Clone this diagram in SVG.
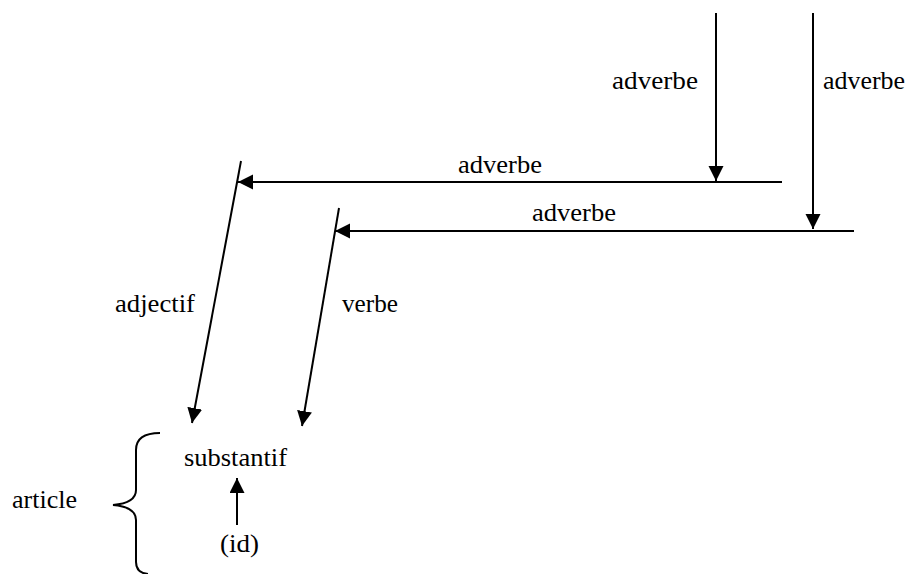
<svg xmlns="http://www.w3.org/2000/svg" width="909" height="574" viewBox="0 0 909 574">
<style>
text{font-family:'Liberation Serif','DejaVu Serif','Times New Roman',serif;font-size:25px;fill:#000}
.c{stroke:#000;stroke-width:2;fill:none}
.a{marker-end:url(#arr)}
</style>
<defs>
<marker id="arr" markerUnits="userSpaceOnUse" markerWidth="16" markerHeight="16" refX="15" refY="7.5" orient="auto">
<path d="M0,0 L15,7.5 L0,15 z" fill="#000"/>
</marker>
</defs>
<rect width="909" height="574" fill="#fff"/>
<g id="connectors">
<line class="c a" x1="716" y1="13" x2="716" y2="181"/>
<line class="c a" x1="813" y1="13" x2="813" y2="229"/>
<line class="c a" x1="782" y1="182" x2="238" y2="182"/>
<line class="c a" x1="854" y1="231" x2="335" y2="231"/>
<line class="c a" x1="241" y1="161" x2="192" y2="423"/>
<line class="c a" x1="339" y1="208" x2="302" y2="426"/>
<line class="c a" x1="237" y1="525" x2="237" y2="478"/>
<path class="c" d="M160,433 Q136,433 136,450 L136,490 Q136,503 113,505 Q136,507 136,520 L136,562 Q136,573 148,574"/>
</g>
<g id="adverbe1"><text x="612" y="89" textLength="86" lengthAdjust="spacingAndGlyphs">adverbe</text></g>
<g id="adverbe2"><text x="823" y="89" textLength="82" lengthAdjust="spacingAndGlyphs">adverbe</text></g>
<g id="adverbe3"><text x="458" y="173" textLength="84" lengthAdjust="spacingAndGlyphs">adverbe</text></g>
<g id="adverbe4"><text x="532" y="221" textLength="84" lengthAdjust="spacingAndGlyphs">adverbe</text></g>
<g id="adjectif"><text x="115" y="312" textLength="80" lengthAdjust="spacingAndGlyphs">adjectif</text></g>
<g id="verbe"><text x="342" y="312" textLength="56" lengthAdjust="spacingAndGlyphs">verbe</text></g>
<g id="substantif"><text x="184" y="466" textLength="103" lengthAdjust="spacingAndGlyphs">substantif</text></g>
<g id="article"><text x="12" y="508" textLength="65" lengthAdjust="spacingAndGlyphs">article</text></g>
<g id="id"><text x="220" y="552" textLength="39" lengthAdjust="spacingAndGlyphs">(id)</text></g>
</svg>
